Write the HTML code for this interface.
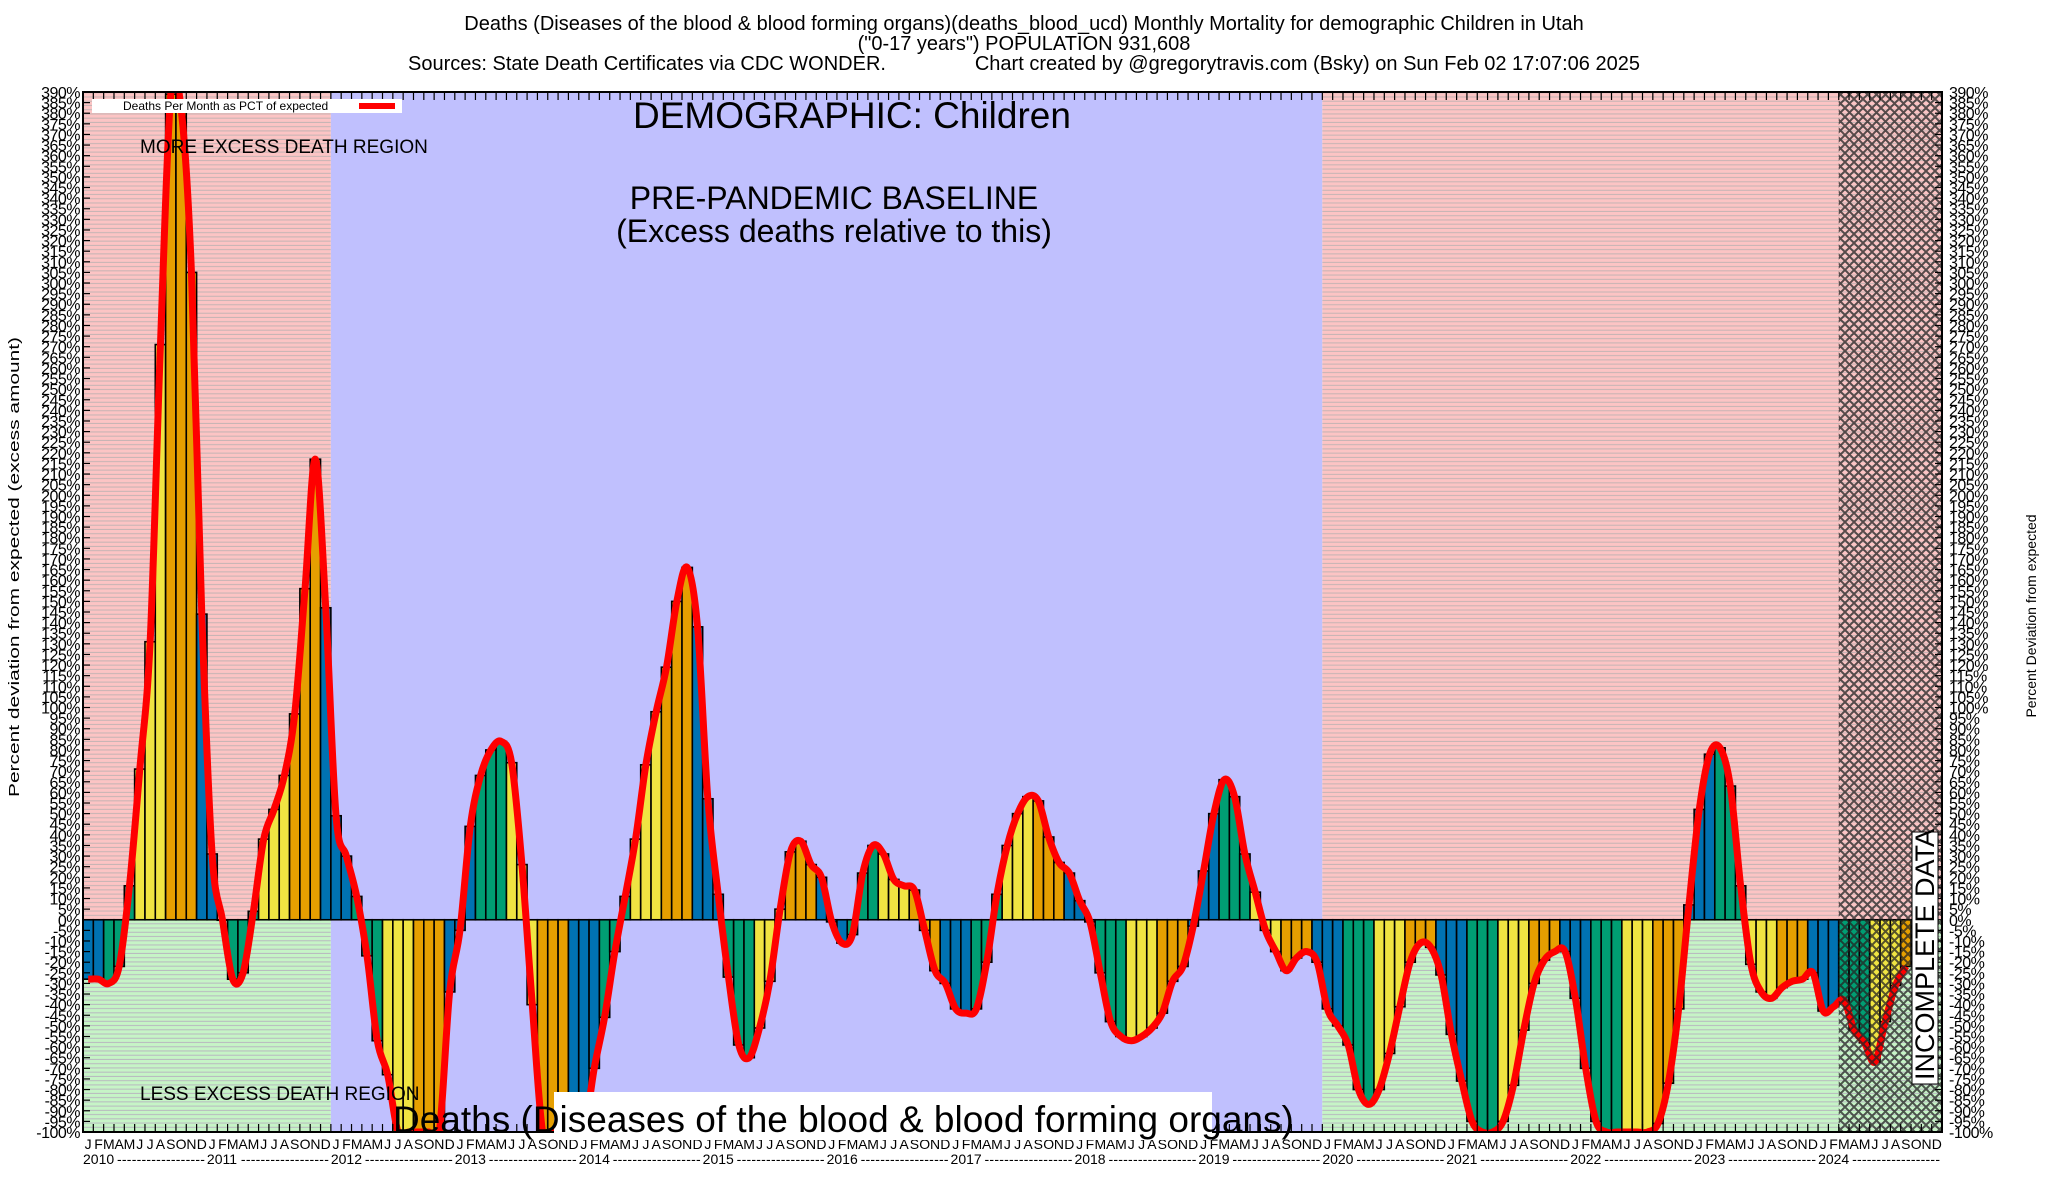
<!DOCTYPE html>
<html><head><meta charset="utf-8">
<style>
html,body{margin:0;padding:0;background:#fff;}
svg{display:block;font-family:"Liberation Sans",sans-serif;}
</style></head>
<body>
<svg id="chart" width="2048" height="1200" viewBox="0 0 2048 1200" xmlns="http://www.w3.org/2000/svg">
<defs>
<pattern id="pinkStripe" width="8" height="4.24" patternUnits="userSpaceOnUse">
<rect width="8" height="4.24" fill="#fcc4c4"/><rect y="3.2" width="8" height="1" fill="#c4b4b4"/>
</pattern>
<pattern id="greenStripe" width="8" height="4.24" patternUnits="userSpaceOnUse">
<rect width="8" height="4.24" fill="#c6f4c6"/><rect y="3.2" width="8" height="1" fill="#b8b8c0"/>
</pattern>
<pattern id="hatch" width="9" height="9" patternUnits="userSpaceOnUse">
<path d="M0,0 L9,9 M9,0 L0,9" stroke="#222" stroke-width="2"/>
</pattern>
<clipPath id="plotClip"><rect x="83" y="92" width="1859" height="1040"/></clipPath>
</defs>
<g id="bg"></g>
<g id="bars" clip-path="url(#plotClip)"></g>
<g id="lineg" clip-path="url(#plotClip)"></g>
<g id="overlay"></g>
<g id="axes"></g>
<g id="texts">
<text x="1024" y="30" text-anchor="middle" font-size="20">Deaths (Diseases of the blood &amp; blood forming organs)(deaths_blood_ucd) Monthly Mortality for demographic Children in Utah</text>
<text x="1024" y="50" text-anchor="middle" font-size="20">("0-17 years") POPULATION 931,608</text>
<text x="1024" y="70" text-anchor="middle" font-size="20" xml:space="preserve">Sources: State Death Certificates via CDC WONDER.                Chart created by @gregorytravis.com (Bsky) on Sun Feb 02 17:07:06 2025</text>
<text x="852" y="128" text-anchor="middle" font-size="37">DEMOGRAPHIC: Children</text>
<text x="834" y="209" text-anchor="middle" font-size="32">PRE-PANDEMIC BASELINE</text>
<text x="834" y="242" text-anchor="middle" font-size="32">(Excess deaths relative to this)</text>
<text x="140" y="153" font-size="19">MORE EXCESS DEATH REGION</text>
<text x="140" y="1100" font-size="19">LESS EXCESS DEATH REGION</text>
<rect x="554" y="1092" width="658" height="48" fill="#fff"/>
<text x="393" y="1132" font-size="37">Deaths (Diseases of the blood &amp; blood forming organs)</text>
<rect x="92" y="99" width="310" height="14" fill="#fff"/>
<text x="123" y="110" font-size="12">Deaths Per Month as PCT of expected</text>
<line x1="359" y1="106" x2="395" y2="106" stroke="#f00" stroke-width="6"/>
<rect x="1912" y="832" width="26" height="252" fill="#fff" stroke="#000" stroke-width="1"/>
<text transform="translate(1934,1080) rotate(-90)" font-size="27">INCOMPLETE DATA</text>
<text transform="translate(19,567) rotate(-90)" text-anchor="middle" font-size="15" textLength="460" lengthAdjust="spacingAndGlyphs">Percent deviation from expected (excess amount)</text>
<text transform="translate(2036,616) rotate(-90)" text-anchor="middle" font-size="14">Percent Deviation from expected</text>
</g>
</svg>
<script>
// monthly values, Jan 2010 .. Sep 2024 (percent deviation)
const values2010 = [-28,-28,-30,-22,16,71,131,271,389,382,305,144];
const values2011 = [31,0,-28,-25,4,38,52,68,97,156,217,147];
const values2012 = [49,30,11,-17,-57,-73,-100,-100,-100,-100,-100,-34];
const values2013 = [-5,44,68,80,84,74,26,-40,-100,-100,-100,-100];
const values2014 = [-100,-70,-46,-15,11,38,73,98,119,150,166,138];
const values2015 = [57,12,-27,-59,-65,-51,-29,5,32,37,26,20];
const values2016 = [-1,-11,-7,22,35,31,19,16,14,-5,-24,-30];
const values2017 = [-42,-44,-42,-20,12,35,50,58,56,39,27,22];
const values2018 = [9,-1,-25,-48,-55,-57,-55,-51,-44,-29,-22,-3];
const values2019 = [23,50,66,58,31,13,-5,-15,-24,-18,-15,-20];
const values2020 = [-42,-50,-59,-80,-87,-80,-63,-41,-20,-11,-13,-26];
const values2021 = [-54,-76,-95,-100,-100,-95,-78,-52,-30,-19,-15,-15];
const values2022 = [-37,-70,-95,-100,-100,-100,-100,-100,-96,-77,-42,7];
const values2023 = [52,78,81,63,16,-21,-34,-37,-32,-29,-28,-25];
const values2024 = [-43,-41,-38,-52,-58,-67,-48,-31,-22];
const years = [2010,2011,2012,2013,2014,2015,2016,2017,2018,2019,2020,2021,2022,2023,2024];
const monthLetters = ["J","F","M","A","M","J","J","A","S","O","N","D"];
const yMin = -100, yMax = 390, yStep = 5;
const incompleteStartMonth = 170;

const values = [].concat(values2010,values2011,values2012,values2013,values2014,values2015,values2016,values2017,values2018,values2019,values2020,values2021,values2022,values2023,values2024);

const NS = "http://www.w3.org/2000/svg";
const PL = 83, PR = 1942, PT = 92, PB = 1132;
const nMonths = years.length * 12;
const mw = (PR - PL) / nMonths;
function xScale(i){ return PL + i * mw; }
function yScale(v){ return PB - (v - yMin) / (yMax - yMin) * (PB - PT); }
function el(tag, attrs, parent){ const e = document.createElementNS(NS, tag); for (const k in attrs) e.setAttribute(k, attrs[k]); parent.appendChild(e); return e; }
function colorFor(m){ if (m===11||m===0||m===1) return "#0072b2"; if (m<=4) return "#009e73"; if (m<=7) return "#f0e442"; return "#e69f00"; }

const bg = document.getElementById("bg");
const y0 = yScale(0);
const xPand = xScale(120), x2012 = xScale(24), xInc = xScale(incompleteStartMonth);
let r;
r = el("rect",{x:PL,y:PT,width:x2012-PL,height:y0-PT,fill:"url(#pinkStripe)"},bg);


r = el("rect",{x:PL,y:y0,width:x2012-PL,height:PB-y0,fill:"url(#greenStripe)"},bg);


r = el("rect",{x:x2012,y:PT,width:xPand-x2012,height:PB-PT,fill:"#c0c0fe"},bg);


r = el("rect",{x:xPand,y:PT,width:PR-xPand,height:y0-PT,fill:"url(#pinkStripe)"},bg);


r = el("rect",{x:xPand,y:y0,width:PR-xPand,height:PB-y0,fill:"url(#greenStripe)"},bg);



const barsG = document.getElementById("bars");
values.forEach((v,i)=>{
  const x = xScale(i), yv = yScale(Math.max(yMin, Math.min(yMax+2, v)));
  const top = Math.min(yv, y0), h = Math.abs(yv - y0);
  const b = el("rect",{x:x, y:top, width:mw, height:Math.max(h,0.5), fill:colorFor(i%12), stroke:"#000", "stroke-width":1.6},barsG);
  
  
});

// smooth line through bar centers (Catmull-Rom)
const pts = values.map((v,i)=>[xScale(i)+mw/2, yScale(v)]);
let d = "M"+pts[0][0]+","+pts[0][1];
for (let i=0;i<pts.length-1;i++){
  const p0 = pts[Math.max(0,i-1)], p1 = pts[i], p2 = pts[i+1], p3 = pts[Math.min(pts.length-1,i+2)];
  const c1 = [p1[0]+(p2[0]-p0[0])/6, p1[1]+(p2[1]-p0[1])/6];
  const c2 = [p2[0]-(p3[0]-p1[0])/6, p2[1]-(p3[1]-p1[1])/6];
  d += " C"+c1[0]+","+c1[1]+" "+c2[0]+","+c2[1]+" "+p2[0]+","+p2[1];
}
const line = el("path",{d:d, fill:"none", stroke:"#ff0000", "stroke-width":7, "stroke-linejoin":"round"},document.getElementById("lineg"));



const ov = document.getElementById("overlay");
r = el("rect",{x:xInc,y:PT,width:PR-xInc,height:PB-PT,fill:"url(#hatch)",opacity:0.75},ov);



// axes
const ax = document.getElementById("axes");
r = el("rect",{x:PL,y:PT,width:PR-PL,height:PB-PT,fill:"none",stroke:"#000","stroke-width":2},ax);


for (let v=yMin; v<=yMax; v+=yStep){
  const y = yScale(v);
  el("line",{x1:PL,y1:y,x2:PL+7,y2:y,stroke:"#000","stroke-width":1.2},ax);
  el("line",{x1:PR,y1:y,x2:PR-7,y2:y,stroke:"#000","stroke-width":1.2},ax);
  const tl = el("text",{x:PL-3,y:y+6,"text-anchor":"end","font-size":16,"letter-spacing":"-0.5"},ax);
  tl.textContent = v+"%";
  
  
  const tr = el("text",{x:PR+7,y:y+6,"text-anchor":"start","font-size":16,"letter-spacing":"-0.5"},ax);
  tr.textContent = v+"%";
  
  
}
for (let i=0;i<=nMonths;i++){
  const x = xScale(i);
  el("line",{x1:x,y1:PB,x2:x,y2:PB-8,stroke:"#000","stroke-width":1.2},ax);
  el("line",{x1:x,y1:PT,x2:x,y2:PT+8,stroke:"#000","stroke-width":1.2},ax);
}
for (let i=0;i<nMonths;i++){
  const t = el("text",{x:xScale(i)+mw/2,y:1149,"text-anchor":"middle","font-size":14},ax);
  t.textContent = monthLetters[i%12];
  
  
}
years.forEach((yr,k)=>{
  const x = xScale(k*12);
  const t = el("text",{x:x,y:1164,"font-size":14},ax);
  t.textContent = String(yr);
  
  
  const dsh = el("text",{x:x+34,y:1164,"font-size":14,textLength:12*mw-36,lengthAdjust:"spacing"},ax);
  dsh.textContent = "------------------";
  
  
});
</script>
</body></html>
